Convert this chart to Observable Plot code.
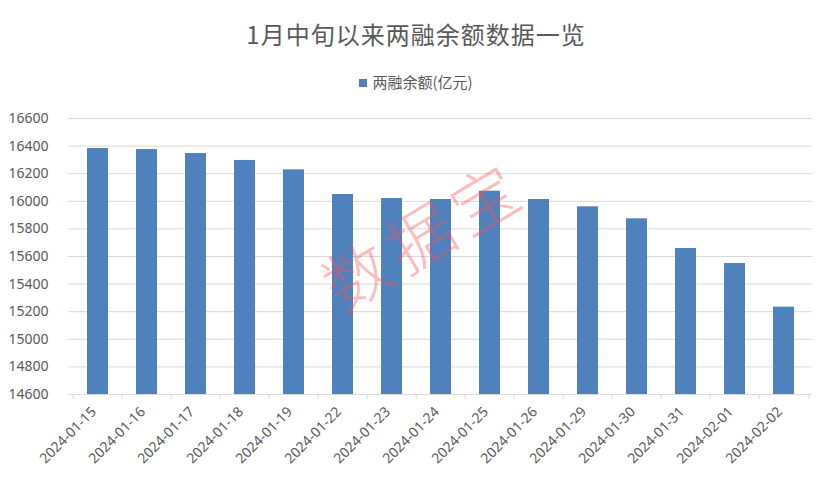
<!DOCTYPE html>
<html><head><meta charset="utf-8">
<script src="https://cdn.jsdelivr.net/npm/d3@7"></script>
<script src="https://cdn.jsdelivr.net/npm/@observablehq/plot@0.6"></script>
<style>
body{margin:0;background:#fff;}
#wrap{position:relative;width:832px;height:482px;overflow:hidden;background:#fff}
#title{position:absolute;left:0;width:832px;top:20px;text-align:center;font-family:"Noto Sans CJK SC",sans-serif;font-size:24px;line-height:28px;color:#595959;letter-spacing:1px}
#legend{position:absolute;left:0;width:832px;top:73px;text-align:center;font-family:"Noto Sans CJK SC",sans-serif;font-size:15px;line-height:18px;color:#595959}
#legend .sw{display:inline-block;width:8px;height:8px;background:#4f81bd;margin-right:5px;vertical-align:1px}
#chart{position:absolute;left:0;top:100px}
#wm{position:absolute;left:422px;top:232px;transform:translate(-50%,-50%) rotate(-31deg);white-space:nowrap;font-family:"Noto Sans CJK SC",sans-serif;font-weight:300;font-size:66px;letter-spacing:8px;color:rgba(255,80,80,0.38);pointer-events:none;z-index:2}
</style>
</head><body>
<div id="wrap">
  <div id="title">1月中旬以来两融余额数据一览</div>
  <div id="legend"><span class="sw"></span>两融余额(亿元)</div>
  <div id="chart"></div>
  <div id="wm">数据宝</div>
</div>
<script>
const dates = ["2024-01-15","2024-01-16","2024-01-17","2024-01-18","2024-01-19","2024-01-22","2024-01-23","2024-01-24","2024-01-25","2024-01-26","2024-01-29","2024-01-30","2024-01-31","2024-02-01","2024-02-02"];
const values = [16383,16375,16346,16296,16228,16049,16020,16013,16073,16013,15960,15873,15658,15549,15233];
const yTicks = [14600,14800,15000,15200,15400,15600,15800,16000,16200,16400,16600];
const yMin = 14600, yMax = 16600;

const data = dates.map((d, i) => ({date: d, value: values[i]}));

const chart = Plot.plot({
  width: 832,
  height: 382,
  marginTop: 18,
  marginBottom: 88,
  marginLeft: 68,
  marginRight: 20,
  x: {domain: dates, paddingInner: 0.58, paddingOuter: 0.29, label: null},
  y: {domain: [yMin, yMax], label: null},
  style: {fontFamily: "'Noto Sans', sans-serif", fontSize: "14px", color: "#595959", background: "transparent"},
  marks: [
    Plot.ruleY(yTicks, {stroke: "#d9d9d9", strokeWidth: 1}),
    Plot.barY(data, {x: "date", y1: () => yMin, y2: "value", fill: "#4f81bd"}),
    Plot.ruleX(dates, {x: d => d, y1: () => yMin, y2: () => yMin, insetBottom: -5, dx: -24.8, stroke: "#d9d9d9"}),
    Plot.ruleX(dates.slice(-1), {x: d => d, y1: () => yMin, y2: () => yMin, insetBottom: -5, dx: 24.8, stroke: "#d9d9d9"}),
    Plot.axisY(yTicks, {tickSize: 0, tickPadding: 20, tickFormat: d => String(d), label: null, fontSize: 14}),
    Plot.axisX({tickSize: 0, tickRotate: -45, tickPadding: 15, dx: -4, fontSize: 14, label: null})
  ]
});
document.getElementById("chart").appendChild(chart);
</script>
</body></html>
